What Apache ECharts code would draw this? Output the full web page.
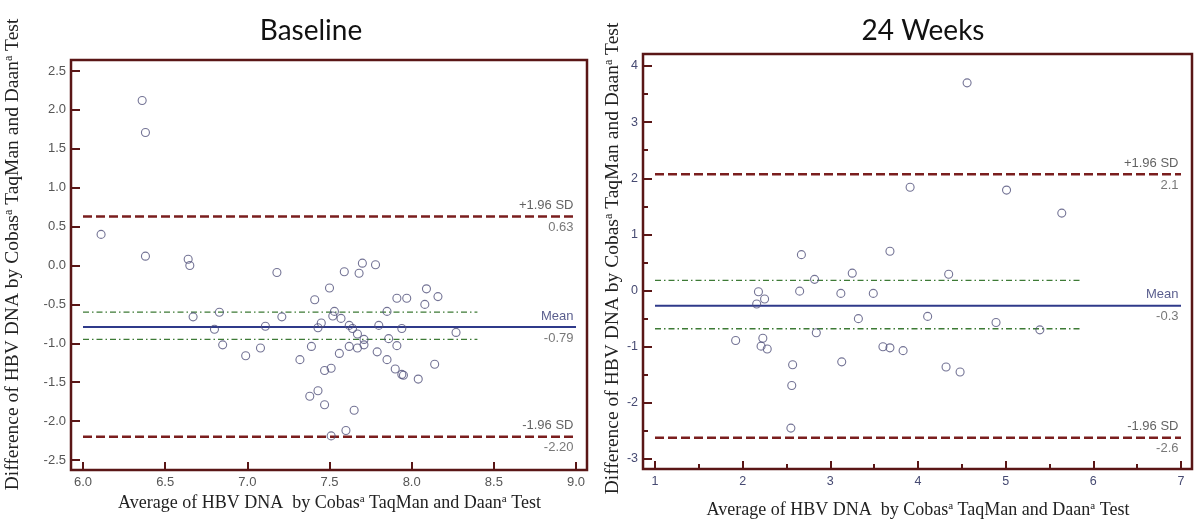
<!DOCTYPE html>
<html><head><meta charset="utf-8">
<script src="https://cdn.jsdelivr.net/npm/echarts@6/dist/echarts.min.js"></script>
<style>html,body{margin:0;padding:0;background:#fff}#c{width:1200px;height:530px}</style>
</head><body><div id="c"></div>
<script>
// ---------- data ----------
const chartTitles = ['Baseline', '24 Weeks'];
const xAxisTitle = 'Average of HBV DNA  by Cobas{sup|a} TaqMan and Daan{sup|a} Test';
const yAxisTitle = 'Difference of HBV DNA by Cobas{sup|a} TaqMan and Daan{sup|a} Test';

// [average, difference]
const baselinePoints = [
  [6.36, 2.12], [6.38, 1.71], [6.11, 0.40], [6.38, 0.12], [6.64, 0.08], [6.65, 0.00],
  [7.70, 0.03], [7.78, 0.01], [7.18, -0.09], [7.59, -0.08], [7.68, -0.10], [7.50, -0.29],
  [8.09, -0.30], [8.16, -0.40], [7.91, -0.42], [7.97, -0.42], [7.41, -0.44], [8.08, -0.50],
  [6.83, -0.60], [7.53, -0.59], [7.85, -0.59], [6.67, -0.66], [7.21, -0.66], [7.52, -0.65],
  [7.57, -0.68], [7.11, -0.78], [7.45, -0.74], [7.43, -0.80], [7.62, -0.77], [7.64, -0.81],
  [7.80, -0.77], [7.94, -0.81], [6.80, -0.82], [8.27, -0.86], [7.67, -0.88], [7.71, -0.95],
  [7.86, -0.94], [6.85, -1.02], [7.08, -1.06], [7.39, -1.04], [7.62, -1.04], [7.67, -1.06],
  [7.71, -1.02], [7.91, -1.03], [6.99, -1.16], [7.56, -1.13], [7.79, -1.11], [7.32, -1.21],
  [7.85, -1.21], [8.14, -1.27], [7.47, -1.35], [7.51, -1.32], [7.90, -1.33], [7.94, -1.40],
  [7.95, -1.41], [8.04, -1.46], [7.38, -1.68], [7.43, -1.61], [7.47, -1.79], [7.65, -1.86],
  [7.60, -2.12], [7.51, -2.19]
];
const week24Points = [
  [4.56, 3.70], [3.91, 1.84], [5.01, 1.79], [5.64, 1.38], [2.67, 0.64], [3.68, 0.70],
  [3.25, 0.31], [4.35, 0.29], [2.82, 0.20], [2.18, -0.02], [2.65, -0.01], [3.12, -0.05],
  [3.49, -0.05], [2.25, -0.15], [2.16, -0.24], [3.32, -0.50], [4.11, -0.46], [4.89, -0.57],
  [5.39, -0.70], [2.84, -0.75], [1.92, -0.89], [2.23, -0.85], [2.21, -0.99], [2.28, -1.04],
  [3.60, -1.00], [3.68, -1.02], [3.83, -1.07], [2.57, -1.32], [3.13, -1.27], [4.32, -1.36],
  [4.48, -1.45], [2.56, -1.69], [2.55, -2.45]
];

const baselineXRange = [6, 9];   const baselineXStep = 0.5;
const baselineYRange = [-2.5, 2.5]; const baselineYStep = 0.5;
const week24XRange = [1, 7];     const week24XStep = 1;
const week24YRange = [-3, 4];    const week24YStep = 1;

const limitNames = ['+1.96 SD', 'Mean', '-1.96 SD'];
const baselineLimits = [0.63, -0.79, -2.20];
const baselineLimitLabels = ['0.63', '-0.79', '-2.20'];
const baselineMeanCI = [-0.60, -0.95];
const baselineCIEnd = 8.4;
const week24Limits = [2.07, -0.27, -2.62];
const week24LimitLabels = ['2.1', '-0.3', '-2.6'];
const week24MeanCI = [0.18, -0.68];
const week24CIEnd = 5.86;

// ---------- styling / layout ----------
const panels = [
  { points: baselinePoints, xr: baselineXRange, xs: baselineXStep, yr: baselineYRange, ys: baselineYStep,
    limits: baselineLimits, limitLabels: baselineLimitLabels, ci: baselineMeanCI, ciEnd: baselineCIEnd,
    frame: {left: 71, top: 60, width: 516, height: 410}, plot: {left: 83, top: 71, width: 493, height: 389},
    titleX: 306, xNameGap: 18, yNameGap: 48, yNameShift: 22, labelColor: '#555', labelSize: 13, dec: 1, minor: false },
  { points: week24Points, xr: week24XRange, xs: week24XStep, yr: week24YRange, ys: week24YStep,
    limits: week24Limits, limitLabels: week24LimitLabels, ci: week24MeanCI, ciEnd: week24CIEnd,
    frame: {left: 643, top: 54, width: 549, height: 415}, plot: {left: 655, top: 66, width: 526, height: 393},
    titleX: 918, xNameGap: 32, yNameGap: 19, yNameShift: 8, labelColor: '#464a72', labelSize: 12.5, dec: 0, minor: true }
];

const frameColor = '#5a1616';
const sdColor = '#7a1e1e';
const meanColor = '#2f3a8a';
const ciColor = '#3d7a35';
const makeNameStyle = (size, shift) => ({
  fontFamily: 'Liberation Serif', fontSize: size, color: '#222', padding: [0, 0, 0, shift],
  rich: { sup: { fontFamily: 'Liberation Serif', fontSize: Math.round(size * 0.6), color: '#222', verticalAlign: 'top', lineHeight: size } }
});

const grid = [], xAxis = [], yAxis = [], series = [], title = [];
panels.forEach((p, i) => {
  const fg = grid.length;
  grid.push(Object.assign({ show: true, borderColor: frameColor, borderWidth: 2.5, backgroundColor: 'transparent' }, p.frame));
  xAxis.push({ gridIndex: fg, show: false, min: 0, max: 1 });
  yAxis.push({ gridIndex: fg, show: false, min: 0, max: 1 });
  const dg = grid.length;
  grid.push(Object.assign({ show: false }, p.plot));
  const xOff = (p.frame.top + p.frame.height) - (p.plot.top + p.plot.height);
  const yOff = p.plot.left - p.frame.left;
  const tickStyle = { color: frameColor, width: 2 };
  xAxis.push({
    gridIndex: dg, type: 'value', min: p.xr[0], max: p.xr[1], interval: p.xs, offset: xOff,
    axisLine: { show: false, onZero: false }, splitLine: { show: false },
    axisTick: { show: true, inside: true, length: 8, lineStyle: tickStyle },
    minorTick: { show: p.minor, splitNumber: 2, length: 5, lineStyle: tickStyle },
    axisLabel: { margin: 6, color: p.labelColor, fontSize: p.labelSize, fontFamily: 'Liberation Sans',
      formatter: v => v.toFixed(p.dec) },
    name: xAxisTitle, nameLocation: 'middle', nameGap: p.xNameGap, nameTextStyle: makeNameStyle(18, 0)
  });
  const xi = xAxis.length - 1;
  yAxis.push({
    gridIndex: dg, type: 'value', min: p.yr[0], max: p.yr[1], interval: p.ys, offset: yOff,
    axisLine: { show: false, onZero: false }, splitLine: { show: false },
    axisTick: { show: true, inside: true, length: 9, lineStyle: tickStyle },
    minorTick: { show: p.minor, splitNumber: 2, length: 5, lineStyle: tickStyle },
    axisLabel: { margin: 5, color: p.labelColor, fontSize: p.labelSize, fontFamily: 'Liberation Sans',
      formatter: v => v.toFixed(p.dec) },
    name: yAxisTitle, nameLocation: 'middle', nameGap: p.yNameGap, nameTextStyle: makeNameStyle(19.5, p.yNameShift)
  });
  const yi = yAxis.length - 1;

  title.push({ text: chartTitles[i], left: p.titleX, top: 12, textAlign: 'center',
    textStyle: { fontFamily: 'Lato', fontSize: 28, fontWeight: 'normal', color: '#111' } });

  const lineSeries = (y, x1, style) => ({
    type: 'line', xAxisIndex: xi, yAxisIndex: yi, data: [[p.xr[0], y], [x1, y]],
    symbol: 'none', silent: true, animation: false, z: 2, lineStyle: style
  });
  series.push(lineSeries(p.limits[0], p.xr[1], { color: sdColor, width: 2.5, type: [9, 4] }));
  series.push(lineSeries(p.limits[1], p.xr[1], { color: meanColor, width: 2, type: 'solid' }));
  series.push(lineSeries(p.limits[2], p.xr[1], { color: sdColor, width: 2.5, type: [9, 4] }));
  p.ci.forEach(c => series.push(lineSeries(c, p.ciEnd, { color: ciColor, width: 1.3, type: [6, 3, 1.5, 3] })));

  p.limits.forEach((v, k) => {
    const lab = { fontFamily: 'Liberation Sans', fontSize: 13 };
    series.push({
      type: 'scatter', xAxisIndex: xi, yAxisIndex: yi, silent: true, animation: false, z: 3,
      symbolSize: 1, itemStyle: { color: 'rgba(0,0,0,0)' },
      data: [[p.xr[1], v]],
      label: { show: true, position: [0, 0], align: 'right', verticalAlign: 'bottom', offset: [-2, -4],
        formatter: limitNames[k], color: k === 1 ? '#2f3470' : '#3a3a3a', ...lab }
    });
    series.push({
      type: 'scatter', xAxisIndex: xi, yAxisIndex: yi, silent: true, animation: false, z: 3,
      symbolSize: 1, itemStyle: { color: 'rgba(0,0,0,0)' },
      data: [[p.xr[1], v]],
      label: { show: true, position: [0, 0], align: 'right', verticalAlign: 'top', offset: [-2, 5],
        formatter: p.limitLabels[k], color: '#555', ...lab }
    });
  });

  series.push({
    type: 'scatter', xAxisIndex: xi, yAxisIndex: yi, data: p.points, animation: false, z: 5,
    symbol: 'circle', symbolSize: 8,
    itemStyle: { color: 'rgba(255,255,255,0)', borderColor: '#50507a', borderWidth: 1.1 }
  });
});

const chart = echarts.init(document.getElementById('c'), null, { renderer: 'canvas' });
chart.setOption({ backgroundColor: '#fff', animation: false, title, grid, xAxis, yAxis, series });
</script></body></html>
